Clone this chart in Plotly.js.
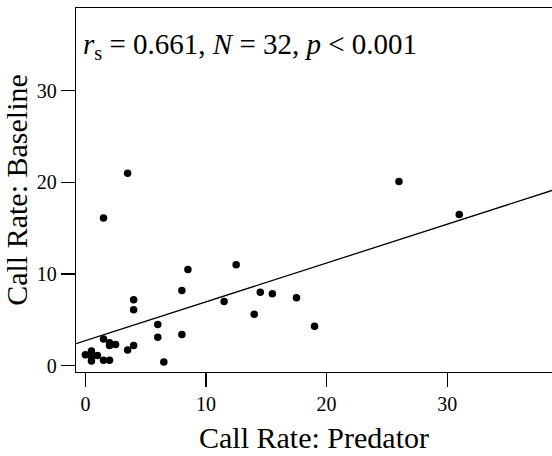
<!DOCTYPE html>
<html>
<head>
<meta charset="utf-8">
<script src="https://cdn.plot.ly/plotly-3.0.1.min.js"></script>
<style>html,body{margin:0;padding:0;background:#fff;}#chart{width:552px;height:456px;}</style>
</head>
<body>
<div id="chart"></div>
<script>
// Call rate during predator presentation vs baseline (32 observations)
const predatorRate = [3.5, 1.5, 8.5, 8, 4, 4, 6, 6, 8, 1.5, 2, 2, 2.5, 4, 3.5, 0, 0.5, 1, 0.5, 0.5, 1.5, 2, 6.5, 26, 31, 12.5, 11.5, 14.5, 15.5, 14, 17.5, 19];
const baselineRate = [21, 16.1, 10.5, 8.2, 7.2, 6.1, 4.5, 3.1, 3.4, 2.9, 2.5, 2.2, 2.3, 2.2, 1.7, 1.2, 1.6, 1.1, 0.9, 0.5, 0.6, 0.6, 0.4, 20.1, 16.5, 11, 7, 8, 7.85, 5.6, 7.4, 4.3];
const tickValues = [0, 10, 20, 30];
const xTitle = "Call Rate: Predator";
const yTitle = "Call Rate: Baseline";
const statsText = "<i>r</i><sub>s</sub> = 0.661, <i>N</i> = 32, <i>p</i> < 0.001";

const xRange = [-0.78, 38.69];
const yRange = [-0.69, 39.02];

// least-squares fit line from the data
const n = predatorRate.length;
const mx = predatorRate.reduce((a, b) => a + b, 0) / n;
const my = baselineRate.reduce((a, b) => a + b, 0) / n;
let sxy = 0, sxx = 0;
for (let i = 0; i < n; i++) {
  sxy += (predatorRate[i] - mx) * (baselineRate[i] - my);
  sxx += (predatorRate[i] - mx) ** 2;
}
const slope = sxy / sxx;
const intercept = my - slope * mx;
const fitX = [xRange[0], xRange[1]];
const fitY = fitX.map(v => intercept + slope * v);

const FONT = "Liberation Serif, Times New Roman, serif";

const traces = [
  {
    x: fitX, y: fitY, type: "scatter", mode: "lines",
    line: {color: "#000", width: 1.3}, hoverinfo: "skip", showlegend: false, cliponaxis: true
  },
  {
    x: predatorRate, y: baselineRate, type: "scatter", mode: "markers",
    marker: {color: "#000", size: 7.5, line: {width: 0}}, showlegend: false
  }
];

const layout = {
  width: 552, height: 456,
  margin: {l: 76, r: 0, t: 8, b: 84},
  paper_bgcolor: "#fff", plot_bgcolor: "#fff",
  font: {family: FONT, color: "#000", size: 20},
  showlegend: false,
  xaxis: {
    range: xRange, tickvals: tickValues, ticktext: tickValues.map(String),
    ticks: "outside", ticklen: 14, tickwidth: 1.3, tickcolor: "#000",
    showline: true, linecolor: "#000", linewidth: 1.3, mirror: true,
    showgrid: false, zeroline: false,
    tickfont: {family: FONT, size: 20, color: "#000"},
    title: {text: xTitle, font: {family: FONT, size: 30, color: "#000"}, standoff: 12}
  },
  yaxis: {
    range: yRange, tickvals: tickValues, ticktext: tickValues.map(String),
    ticks: "outside", ticklen: 14, tickwidth: 1.3, tickcolor: "#000",
    showline: true, linecolor: "#000", linewidth: 1.3, mirror: false,
    showgrid: false, zeroline: false,
    tickfont: {family: FONT, size: 20, color: "#000"},
    title: {text: yTitle, font: {family: FONT, size: 30, color: "#000"}, standoff: 6}
  },
  annotations: [{
    text: statsText, xref: "paper", yref: "paper", x: 0.01, y: 0.895,
    xanchor: "left", yanchor: "middle", showarrow: false,
    font: {family: FONT, size: 29, color: "#000"}
  }]
};

Plotly.newPlot("chart", traces, layout, {displayModeBar: false, staticPlot: true});
</script>
</body>
</html>
